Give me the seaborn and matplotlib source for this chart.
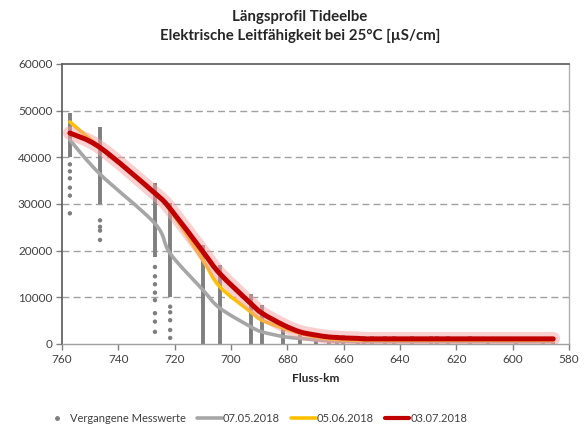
import numpy as np
import pandas as pd
import matplotlib
matplotlib.use("Agg")
import matplotlib.pyplot as plt
import seaborn as sns
from matplotlib.lines import Line2D
from matplotlib.path import Path
from matplotlib.patches import PathPatch

# ---------------- data ----------------
stations_km = [757.2, 746.5, 727.0, 721.6, 710.0, 704.0, 693.0, 689.0, 681.5, 675.5,
               669.8, 665.2, 662.4, 660.3, 654.9, 652.7, 650.0, 645.3, 642.0, 635.8,
               628.9, 626.9, 623.0, 615.1, 608.8, 598.7, 589.1, 585.6]

# range covered by dense past measurements at each station
past_lo = [40000, 30000, 18700, 10100, 0, 0, 0, 0, 0, 0,
           0, 0, 0, 0, 0, 0, 0, 0, 0, 0,
           0, 0, 0, 0, 0, 0, 0, 0]
past_hi = [49500, 46500, 34400, 30200, 21200, 17000, 10800, 8400, 4400, 3000,
           2200, 1900, 1900, 1900, 1800, 1800, 1800, 1800, 1700, 1700,
           1700, 1700, 1700, 1700, 1600, 1600, 1600, 1600]

# isolated past measurements
iso_km = [757.2] * 6 + [746.5] * 4 + [727.0] * 8 + [721.6] * 5
iso_val = [38500, 37000, 35500, 33500, 31800, 28000,
           26500, 25100, 24300, 22300,
           16500, 14500, 12800, 11000, 9400, 6600, 4800, 2600,
           8000, 6800, 5100, 3000, 1300]

series_0705 = [43700, 36400, 25800, 19400, 11600, 7700, 3700, 2600, 1600, 1200,
               900, 700, 600, 600, 500, 500, 500, 500, 500, 500,
               500, 500, 500, 500, 500, 500, 500, 500]
series_0506 = [47600, 42100, 32300, 28700, 18000, 12300, 6900, 5100, 3400, 2300,
               1500, 1100, 1000, 900, 800, 800, 800, 800, 800, 800,
               800, 800, 800, 800, 800, 800, 800, 800]
series_0307 = [45200, 42100, 32300, 29000, 19800, 15100, 8700, 6600, 4100, 2600,
               1900, 1500, 1400, 1300, 1200, 1100, 1100, 1100, 1100, 1100,
               1100, 1100, 1100, 1100, 1100, 1100, 1100, 1100]

labels = ["Vergangene Messwerte", "07.05.2018", "05.06.2018", "03.07.2018"]
x_ticks = [760, 740, 720, 700, 680, 660, 640, 620, 600, 580]
y_ticks = [0, 10000, 20000, 30000, 40000, 50000, 60000]

# ---------------- styling ----------------
sns.set_theme(style="white")
plt.rcParams["font.family"] = ["Lato", "DejaVu Sans"]

GRAY_DOT = "#7f7f7f"
GRAY_LINE = "#a6a6a6"
ORANGE = "#ffc000"
RED = "#c00000"
PINK = "#f4a0a0"

fig = plt.figure(figsize=(5.87, 4.28), dpi=100)
ax = fig.add_axes([62 / 587, 1 - 344 / 428, (569 - 62) / 587, (344 - 64) / 428])

# gridlines
for yv in y_ticks[1:-1]:
    ax.axhline(yv, color="#a0a0a0", lw=1.0, ls=(0, (5, 3)), zorder=0)

# past measurement columns
ax.vlines(stations_km, past_lo, past_hi, color=GRAY_DOT, lw=2.8, zorder=2)
dots = pd.DataFrame({"km": iso_km, "val": iso_val})
sns.scatterplot(data=dots, x="km", y="val", ax=ax, color=GRAY_DOT, s=10,
                edgecolor="none", zorder=3, legend=False)


def smooth_path(xs, ys):
    """Bezier (Catmull-Rom style) path through the given data points,
    similar to a 'smoothed line' in spreadsheet charts."""
    p = np.column_stack([xs, ys]).astype(float)
    n = len(p)
    verts = [p[0]]
    codes = [Path.MOVETO]
    for i in range(n - 1):
        p0 = p[i - 1] if i > 0 else p[i]
        p3 = p[i + 2] if i + 2 < n else p[i + 1]
        c1 = p[i] + (p[i + 1] - p0) / 6.0
        c2 = p[i + 1] - (p3 - p[i]) / 6.0
        verts += [c1, c2, p[i + 1]]
        codes += [Path.CURVE4] * 3
    return Path(verts, codes)


lines = pd.DataFrame({
    "km": stations_km * 3,
    "val": series_0705 + series_0506 + series_0307,
    "date": [labels[1]] * len(stations_km) + [labels[2]] * len(stations_km)
            + [labels[3]] * len(stations_km),
})

styles = {
    labels[1]: [(GRAY_LINE, 2.6, 1.0, 5)],
    labels[2]: [(ORANGE, 2.6, 1.0, 6)],
    labels[3]: [(PINK, 10, 0.5, 7), (RED, 3.6, 1.0, 8)],
}
for name, grp in lines.groupby("date", sort=False):
    path = smooth_path(grp["km"].values, grp["val"].values)
    for col, lw, alpha, z in styles[name]:
        ax.add_patch(PathPatch(path, facecolor="none", edgecolor=col, lw=lw,
                               alpha=alpha, capstyle="round", joinstyle="round",
                               zorder=z))

ax.set_xlim(760, 580)
ax.set_ylim(0, 60000)
ax.set_xticks(x_ticks)
ax.set_yticks(y_ticks)
ax.set_xticklabels([str(t) for t in x_ticks], fontsize=8.5, color="#404040")
ax.set_yticklabels([str(t) for t in y_ticks], fontsize=8.5, color="#404040")
ax.tick_params(axis="both", direction="out", length=4, width=1, color="#808080",
               pad=3, left=True, bottom=True)
ax.set_xlabel("Fluss-km", fontsize=8.5, fontweight="bold", color="#262626", labelpad=6)
ax.set_ylabel("")

for side in ["left", "top"]:
    ax.spines[side].set_color("#595959")
    ax.spines[side].set_linewidth(1.2)
ax.spines["bottom"].set_color("#a0a0a0")
ax.spines["right"].set_color("#b0b0b0")
ax.spines["bottom"].set_linewidth(1.0)
ax.spines["right"].set_linewidth(1.0)

fig.text(0.511, 1 - 17 / 428, "Längsprofil Tideelbe", ha="center", va="center",
         fontsize=10.8, fontweight="bold", color="#262626")
fig.text(0.511, 1 - 36 / 428, "Elektrische Leitfähigkeit bei 25°C [µS/cm]",
         ha="center", va="center", fontsize=10.8, fontweight="bold", color="#262626")

handles = [
    Line2D([], [], ls="none", marker="o", ms=2.5, color=GRAY_DOT),
    Line2D([], [], color=GRAY_LINE, lw=2.6),
    Line2D([], [], color=ORANGE, lw=2.6),
    Line2D([], [], color=RED, lw=3.0),
]
fig.legend(handles, labels, loc="center", bbox_to_anchor=(256 / 587, 1 - 418 / 428),
           ncol=4, frameon=False, fontsize=8, handlelength=2.2, handletextpad=0.1,
           columnspacing=1.0, labelcolor="#404040")

fig.savefig("out.png", dpi=100)
